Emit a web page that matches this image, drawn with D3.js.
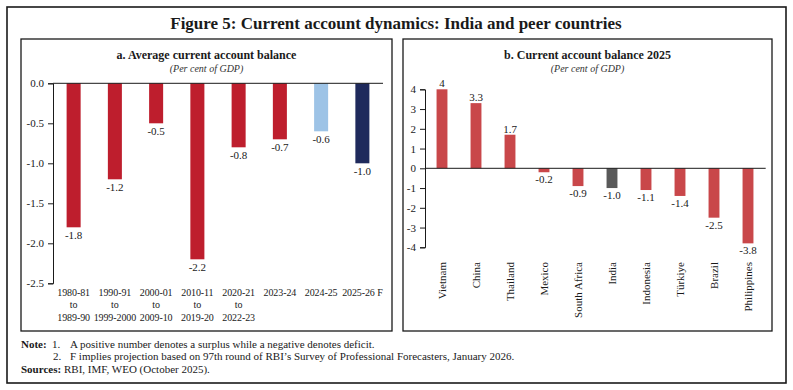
<!DOCTYPE html>
<html><head><meta charset="utf-8">
<script src="https://cdn.jsdelivr.net/npm/d3@7"></script>
<style>
html,body{margin:0;padding:0;background:#fff;}
svg{display:block;font-family:"Liberation Serif","Times New Roman",serif;}
</style></head>
<body><svg id="chart" width="793" height="390"></svg>
<script>
// Panel a data
const periodsA = [["1980-81","to","1989-90"],["1990-91","to","1999-2000"],["2000-01","to","2009-10"],["2010-11","to","2019-20"],["2020-21","to","2022-23"],["2023-24"],["2024-25"],["2025-26 F"]];
const valuesA = [-1.8, -1.2, -0.5, -2.2, -0.8, -0.7, -0.6, -1.0];
const colorsA = ["#BE1E2D","#BE1E2D","#BE1E2D","#BE1E2D","#BE1E2D","#BE1E2D","#9DC3E6","#1F2A5C"];
const ticksA = [0, -0.5, -1.0, -1.5, -2.0, -2.5];
// Panel b data
const countriesB = ["Vietnam","China","Thailand","Mexico","South Africa","India","Indonesia","Türkiye","Brazil","Philippines"];
const valuesB = [4, 3.3, 1.7, -0.2, -0.9, -1.0, -1.1, -1.4, -2.5, -3.8];
const labelsB = ["4","3.3","1.7","-0.2","-0.9","-1.0","-1.1","-1.4","-2.5","-3.8"];
const ticksB = [4,3,2,1,0,-1,-2,-3,-4];

const svg = d3.select("#chart");
const ink = "#1a1a1a";
const fmt1 = d => (Math.abs(d) < 1e-9 ? 0 : d).toFixed(1);
const fmt0 = d => String(d);

// outer frame
svg.append("rect").attr("x",7).attr("y",7).attr("width",779).attr("height",376)
  .attr("fill","none").attr("stroke",ink).attr("stroke-width",1.6);
svg.append("text").attr("x",396).attr("y",29).attr("text-anchor","middle")
  .attr("font-size",17).attr("font-weight","bold").attr("fill",ink)
  .text("Figure 5: Current account dynamics: India and peer countries");

function panel(x0,x1,title){
  svg.append("rect").attr("x",x0).attr("y",39).attr("width",x1-x0).attr("height",292)
    .attr("fill","none").attr("stroke",ink).attr("stroke-width",1.3);
  const cx=(x0+x1)/2;
  svg.append("text").attr("x",cx).attr("y",59).attr("text-anchor","middle")
    .attr("font-size",12).attr("font-weight","bold").attr("fill",ink).text(title);
  svg.append("text").attr("x",cx).attr("y",72).attr("text-anchor","middle")
    .attr("font-size",10).attr("font-style","italic").attr("fill","#333").text("(Per cent of GDP)");
}
panel(21,392,"a. Average current account balance");
panel(403,772,"b. Current account balance 2025");

// ---- Panel a
const xA = d3.scaleBand().domain(d3.range(valuesA.length)).range([53,383]).paddingInner(0.66).paddingOuter(0.33);
const yA = d3.scaleLinear().domain([-2.5,0]).range([283.3,83.3]);
const gA = svg.append("g");
gA.selectAll("rect.bar").data(valuesA).join("rect").attr("class","bar")
  .attr("x",(d,i)=>xA(i)).attr("width",xA.bandwidth())
  .attr("y",yA(0)).attr("height",d=>yA(d)-yA(0)).attr("fill",(d,i)=>colorsA[i]);
gA.selectAll("text.val").data(valuesA).join("text").attr("class","val")
  .attr("x",(d,i)=>xA(i)+xA.bandwidth()/2).attr("y",d=>yA(d)+12)
  .attr("text-anchor","middle").attr("font-size",11).attr("fill",ink).text(d=>fmt1(d));
const axA = svg.append("g").attr("transform","translate(53,0)")
  .call(d3.axisLeft(yA).tickValues(ticksA).tickFormat(fmt1).tickSize(5).tickPadding(4));
axA.select(".domain").attr("stroke",ink);
axA.selectAll("line").attr("stroke",ink);
axA.selectAll("text").attr("font-size",11).attr("font-family","Liberation Serif").attr("fill",ink);
svg.append("line").attr("x1",53).attr("x2",383).attr("y1",yA(0)).attr("y2",yA(0)).attr("stroke",ink);
periodsA.forEach((lines,i)=>{
  const cx = xA(i)+xA.bandwidth()/2;
  const t = svg.append("text").attr("text-anchor","middle").attr("font-size",10).attr("letter-spacing",-0.1).attr("fill",ink);
  lines.forEach((s,k)=>t.append("tspan").attr("x",cx).attr("y",296+k*12.3).text(s));
});

// ---- Panel b
const xB = d3.scaleBand().domain(countriesB).range([425,765]).paddingInner(0.68).paddingOuter(0.34);
const yB = d3.scaleLinear().domain([-4,4]).range([247.3,89.3]);
const gB = svg.append("g");
gB.selectAll("rect.bar").data(valuesB).join("rect").attr("class","bar")
  .attr("x",(d,i)=>xB(countriesB[i])).attr("width",xB.bandwidth())
  .attr("y",d=>yB(Math.max(0,d))).attr("height",d=>Math.abs(yB(d)-yB(0)))
  .attr("fill",(d,i)=>countriesB[i]==="India"?"#595959":"#C9474A");
gB.selectAll("text.val").data(valuesB).join("text").attr("class","val")
  .attr("x",(d,i)=>xB(countriesB[i])+xB.bandwidth()/2)
  .attr("y",d=>d>=0? yB(d)-2 : yB(d)+11)
  .attr("text-anchor","middle").attr("font-size",11).attr("fill",ink).text((d,i)=>labelsB[i]);
const axB = svg.append("g").attr("transform","translate(425,0)")
  .call(d3.axisLeft(yB).tickValues(ticksB).tickFormat(fmt0).tickSize(5).tickPadding(4));
axB.select(".domain").attr("stroke",ink);
axB.selectAll("line").attr("stroke",ink);
axB.selectAll("text").attr("font-size",11).attr("font-family","Liberation Serif").attr("fill",ink);
svg.append("line").attr("x1",425).attr("x2",765.7).attr("y1",yB(0)).attr("y2",yB(0)).attr("stroke",ink);
countriesB.forEach(c=>{
  const cx = xB(c)+xB.bandwidth()/2;
  svg.append("text").attr("text-anchor","end").attr("font-size",11).attr("fill",ink)
    .attr("transform",`translate(${cx+4},262) rotate(-90)`).text(c);
});

// ---- Notes
const notes = svg.append("g").attr("font-size",11).attr("fill",ink);
notes.append("text").attr("x",21).attr("y",348).attr("font-weight","bold").text("Note:");
notes.append("text").attr("x",52).attr("y",348).text("1.");
notes.append("text").attr("x",70).attr("y",348).text("A positive number denotes a surplus while a negative denotes deficit.");
notes.append("text").attr("x",53).attr("y",360).text("2.");
notes.append("text").attr("x",70).attr("y",360).text("F implies projection based on 97th round of RBI’s Survey of Professional Forecasters, January 2026.");
notes.append("text").attr("x",21).attr("y",373).attr("font-weight","bold").text("Sources:");
notes.append("text").attr("x",64).attr("y",373).text("RBI, IMF, WEO (October 2025).");
</script></body></html>
